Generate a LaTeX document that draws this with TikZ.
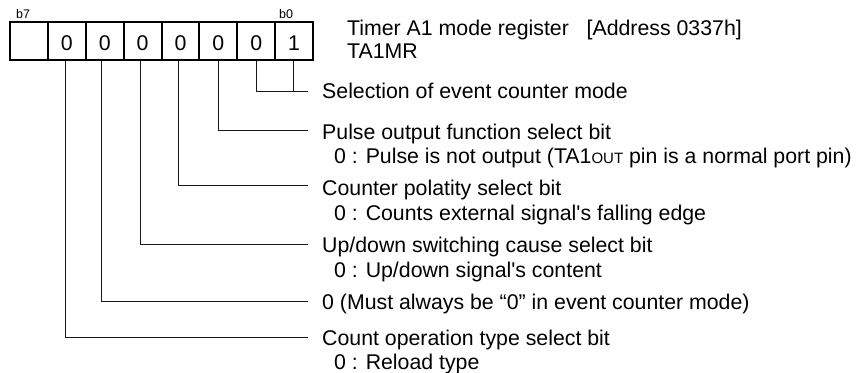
\documentclass[tikz,border=0pt]{standalone}
\usepackage{fontspec}
\newfontfamily\arial{Liberation Sans}
\begin{document}
\begin{tikzpicture}[x=1pt,y=-1pt,
  every node/.style={inner sep=0pt, font=\arial\fontsize{21.3}{25}\selectfont},
  cell/.style={draw, line width=2pt, minimum width=37.875pt, minimum height=38pt, text height=18pt, text depth=0pt},
  lead/.style={line width=0.9pt, draw=black!90},
  lbl/.style={anchor=base west},
  bitlbl/.style={anchor=base west, font=\arial\fontsize{12.5}{14}\selectfont}]
\useasboundingbox (0,0) rectangle (858,372);
% register cells
\node[cell] (c7) at (28.94,41) {};
\node[cell] (c6) at (66.81,41) {0};
\node[cell] (c5) at (104.69,41) {0};
\node[cell] (c4) at (142.56,41) {0};
\node[cell] (c3) at (180.44,41) {0};
\node[cell] (c2) at (218.31,41) {0};
\node[cell] (c1) at (256.19,41) {0};
\node[cell] (c0) at (294.06,41) {1};
\node[bitlbl] (b7) at (16,18) {b7};
\node[bitlbl] (b0) at (279,18) {b0};
% title
\node[lbl] (t1) at (347,35) {Timer A1 mode register\ \ \ [Address 0337h]};
\node[lbl] (t2) at (347,58) {TA1MR};
% labels
\node[lbl] (l0) at (322,98) {Selection of event counter mode};
\node[lbl] (l2) at (322,139) {Pulse output function select bit};
\node[lbl] (l2a) at (334,163) {0 : Pulse is not output (TA1{\fontsize{15}{18}\selectfont OUT} pin is a normal port pin)};
\node[lbl] (l3) at (322,195) {Counter polatity select bit};
\node[lbl] (l3a) at (334,220) {0 : Counts external signal's falling edge};
\node[lbl] (l4) at (322,252) {Up/down switching cause select bit};
\node[lbl] (l4a) at (334,277) {0 : Up/down signal's content};
\node[lbl] (l5) at (322,309) {0 (Must always be “0” in event counter mode)};
\node[lbl] (l6) at (322,345) {Count operation type select bit};
\node[lbl] (l6a) at (334,369) {0 : Reload type};
% line ends
\coordinate (e0) at (308,91);
\coordinate (e2) at (308,130);
\coordinate (e3) at (308,185);
\coordinate (e4) at (308,244);
\coordinate (e5) at (308,301);
\coordinate (e6) at (308,337);
% leaders
\draw[lead] (c1.south) |- (e0);
\draw[lead] ([xshift=-0.7pt]c0.south) -- ([xshift=-0.7pt]c0.south |- e0);
\draw[lead] (c2.south) |- (e2);
\draw[lead] ([xshift=-2pt]c3.south) |- (e3);
\draw[lead] ([xshift=-2pt]c4.south) |- (e4);
\draw[lead] ([xshift=-3.6pt]c5.south) |- (e5);
\draw[lead] ([xshift=-1pt]c6.south) |- (e6);
\end{tikzpicture}
\end{document}
